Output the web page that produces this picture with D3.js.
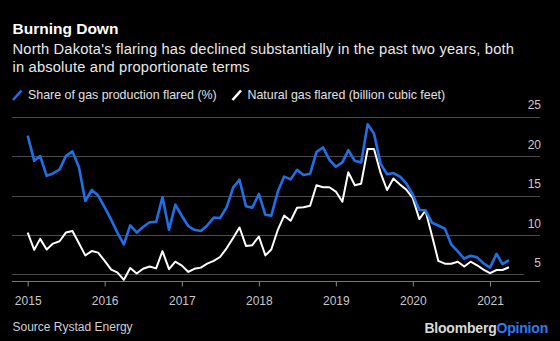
<!DOCTYPE html>
<html><head><meta charset="utf-8">
<script src="https://cdn.jsdelivr.net/npm/d3@7/dist/d3.min.js"></script>
<style>
body{margin:0;background:#000}
svg{display:block}
text{font-family:"Liberation Sans",Arial,Helvetica,sans-serif}
</style>
</head><body>
<svg id="chart" width="560" height="341"></svg>
<script>
// Monthly data, Jan 2015 .. Apr 2021
const firstMonth = new Date(2015, 0, 1);
const endMonth = new Date(2021, 4, 1);
const shareFlared = [
  22.6, 19.4, 20.0, 17.5, 17.8, 18.3, 20.0, 20.6, 18.6, 14.3, 15.7, 15.0,
  13.5, 11.9, 10.3, 8.8, 11.2, 10.3, 11.0, 11.6, 11.65, 14.8, 10.65, 13.85,
  12.4, 11.1, 10.65, 10.5, 11.2, 12.2, 12.15, 13.5, 16.0, 17.0, 13.65, 13.45,
  15.2, 12.55, 12.45, 15.5, 17.4, 17.05, 18.25, 17.6, 17.75, 20.5, 21.1, 19.55,
  18.65, 19.2, 20.75, 19.4, 19.2, 24.05, 22.85, 19.05, 17.7, 17.85, 17.4, 16.55,
  15.1, 13.2, 13.1, 11.55, 11.2, 10.8, 8.8, 7.9, 7.0, 7.35, 7.15, 6.4,
  5.85, 7.6, 6.3, 6.8
];
const gasFlared = [
  10.3, 8.1, 9.5, 8.15, 8.9, 9.2, 10.3, 10.5, 8.95, 7.4, 7.95, 7.75,
  6.7, 5.6, 5.25, 4.3, 5.8, 5.1, 5.7, 6.0, 5.75, 7.95, 5.65, 6.6,
  6.1, 5.3, 5.7, 5.85, 6.35, 6.7, 7.2, 8.3, 9.6, 10.95, 8.6, 8.7,
  9.8, 7.4, 8.15, 10.65, 12.45, 11.8, 13.45, 13.5, 13.7, 16.3, 16.05, 16.05,
  15.5, 14.2, 17.95, 16.3, 16.5, 20.9, 20.9, 17.9, 15.7, 17.15, 16.4, 15.75,
  14.65, 12.0, 13.1, 9.9, 6.7, 6.35, 6.35, 6.6, 6.0, 6.6, 6.15, 5.6,
  5.15, 5.55, 5.55, 5.9
];
const yearTicks = [2015, 2016, 2017, 2018, 2019, 2020, 2021];
const valueTicks = [5, 10, 15, 20, 25];
const seriesNames = ["Share of gas production flared (%)", "Natural gas flared (billion cubic feet)"];
const title = "Burning Down";
const subtitleLines = ["North Dakota's flaring has declined substantially in the past two years, both", "in absolute and proportionate terms"];
const sourceText = "Source Rystad Energy";

const BLUE = "#1f70e6";
const WHITE = "#ffffff";
const GRID = "#4a4a4a";

const months = d3.timeMonth.range(firstMonth, endMonth);
const svg = d3.select("#chart");
svg.append("rect").attr("width", 560).attr("height", 341).attr("fill", "#000");

const x = d3.scaleTime()
  .domain([new Date(yearTicks[0], 0, 1), new Date(yearTicks[yearTicks.length - 1], 0, 1)])
  .range([27.7, 490]);
const y = d3.scaleLinear().domain([4, 25]).range([282.2, 116.7]);

const left = 12, right = 540;

// Title block
svg.append("text").attr("x", 12.5).attr("y", 33.5).attr("fill", "#fff")
  .attr("font-size", 15.5).attr("font-weight", "bold").text(title);
svg.append("g").selectAll("text").data(subtitleLines).join("text")
  .attr("x", 12.5).attr("y", (d, i) => 53.5 + i * 18)
  .attr("fill", "#e8e8e8").attr("font-size", 14.7).attr("letter-spacing", 0.18).text(d => d);

// Legend
const legend = svg.append("g");
const legendItems = [
  {name: seriesNames[0], color: BLUE, x: 12.5},
  {name: seriesNames[1], color: WHITE, x: 232}
];
legendItems.forEach(it => {
  legend.append("line").attr("x1", it.x + 0.5).attr("y1", 100).attr("x2", it.x + 9).attr("y2", 90.5)
    .attr("stroke", it.color).attr("stroke-width", 2.6).attr("stroke-linecap", "butt");
  legend.append("text").attr("x", it.x + 15.5).attr("y", 99.3).attr("fill", "#e0e0e0")
    .attr("font-size", 12.4).text(it.name);
});

// Grid + right labels
const yAxis = svg.append("g");
yAxis.selectAll("line").data(valueTicks).join("line")
  .attr("x1", left).attr("x2", d => d === 5 ? 524 : right)
  .attr("y1", d => Math.round(y(d)) + 0.5).attr("y2", d => Math.round(y(d)) + 0.5)
  .attr("stroke", GRID).attr("stroke-width", 1);
yAxis.selectAll("text").data(valueTicks).join("text")
  .attr("x", 541).attr("y", d => y(d) - 7.4).attr("text-anchor", "end")
  .attr("fill", "#c8c8c8").attr("font-size", 12).text(d => d);

// X axis
const xAxis = d3.axisBottom(x)
  .tickValues(yearTicks.map(yr => new Date(yr, 0, 1)))
  .tickFormat(d3.timeFormat("%Y"))
  .tickSize(5).tickPadding(10);
const gx = svg.append("g").attr("transform", `translate(0,${Math.round(y(4)) - 0.5})`).call(xAxis);
gx.select(".domain").remove();
gx.insert("line", ":first-child").attr("x1", left).attr("x2", right).attr("y1", 0).attr("y2", 0)
  .attr("stroke", "#777").attr("stroke-width", 1);
gx.selectAll(".tick line").attr("stroke", "#888");
gx.selectAll(".tick text").attr("fill", "#c8c8c8").attr("font-size", 12)
  .attr("font-family", '"Liberation Sans",Arial,Helvetica,sans-serif');

// Lines
const line = d3.line().x((d, i) => x(months[i])).y(d => y(d)).curve(d3.curveLinear);
svg.append("path").datum(gasFlared).attr("d", line).attr("fill", "none")
  .attr("stroke", WHITE).attr("stroke-width", 2).attr("stroke-linejoin", "round");
svg.append("path").datum(shareFlared).attr("d", line).attr("fill", "none")
  .attr("stroke", BLUE).attr("stroke-width", 2.6).attr("stroke-linejoin", "round");

// Footer
svg.append("text").attr("x", 12.5).attr("y", 331).attr("fill", "#cfcfcf")
  .attr("font-size", 12).text(sourceText);
const brand = svg.append("text").attr("x", 548).attr("y", 333).attr("text-anchor", "end")
  .attr("font-size", 14).attr("font-weight", "bold").attr("letter-spacing", -0.2);
brand.append("tspan").attr("fill", "#d9d9d9").text("Bloomberg");
brand.append("tspan").attr("fill", "#2a7cf0").text("Opinion");
</script>
</body></html>
